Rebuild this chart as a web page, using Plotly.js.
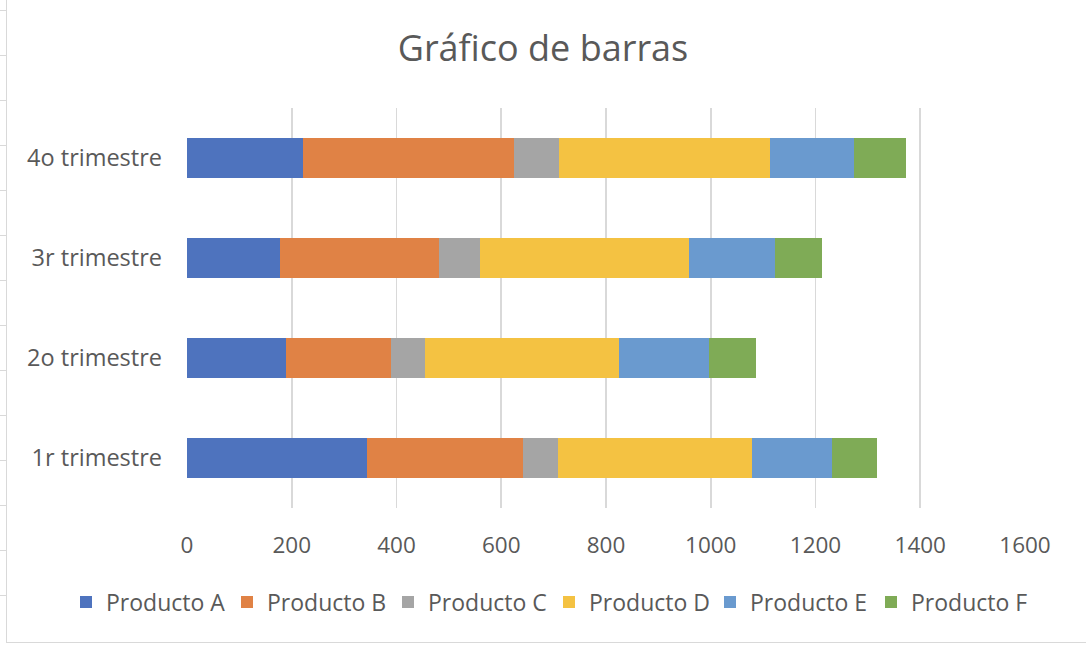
<!DOCTYPE html>
<html>
<head>
<meta charset="utf-8">
<script src="https://cdn.plot.ly/plotly-3.0.1.min.js"></script>
<style>
  html, body { margin: 0; padding: 0; background: #ffffff; }
  #frame { position: absolute; left: 0; top: 0; width: 1086px; height: 646px; overflow: hidden; }
  #chart { position: absolute; left: 0; top: 0; width: 1086px; height: 646px; }
  #border { position: absolute; left: 6px; top: -2px; width: 1100px; height: 644px;
            border-left: 1.5px solid #d9d9d9; border-bottom: 1.5px solid #d9d9d9; pointer-events: none; }
  .rowline { position: absolute; left: 0; width: 7px; height: 1px; background: #d9d9d9; }
</style>
</head>
<body>
<div id="frame">
  <div id="chart"></div>
  <div id="border"></div>
</div>
<script>
const categories = ["1r trimestre", "2o trimestre", "3r trimestre", "4o trimestre"];
const seriesNames = ["Producto A", "Producto B", "Producto C", "Producto D", "Producto E", "Producto F"];
const productoA = [343, 189, 178, 221];
const productoB = [299, 200, 303, 404];
const productoC = [67, 65, 78, 86];
const productoD = [370, 371, 400, 402];
const productoE = [153, 172, 163, 160];
const productoF = [86, 89, 90, 100];
const xTicks = [0, 200, 400, 600, 800, 1000, 1200, 1400, 1600];

const seriesValues = [productoA, productoB, productoC, productoD, productoE, productoF];
const colors = ["#4E73BE", "#E08245", "#A5A5A5", "#F4C242", "#6A9ACF", "#7FAB56"];

// spreadsheet row lines visible at the left edge (background decoration)
(function () {
  const frame = document.getElementById("frame");
  for (let y = 10; y < 640; y += 45) {
    const d = document.createElement("div");
    d.className = "rowline";
    d.style.top = y + "px";
    frame.appendChild(d);
  }
})();

const traces = seriesNames.map((name, i) => ({
  type: "bar",
  orientation: "h",
  name: name,
  y: categories,
  x: seriesValues[i],
  marker: { color: colors[i], line: { width: 0 } },
  hoverinfo: "x+name"
}));

const font = "'Open Sans', 'Noto Sans', sans-serif";
const layout = {
  width: 1086,
  height: 646,
  paper_bgcolor: "rgba(0,0,0,0)",
  plot_bgcolor: "rgba(0,0,0,0)",
  barmode: "stack",
  bargap: 0.6,
  margin: { l: 187, r: 61, t: 108, b: 138, pad: 0 },
  font: { family: font, color: "#595959", size: 23 },
  title: {
    text: "Gráfico de barras",
    font: { family: font, size: 36, color: "#595959" },
    x: 0.5, xref: "container", xanchor: "center",
    y: 1 - 48 / 646, yref: "container", yanchor: "middle"
  },
  xaxis: {
    range: [0, 1600],
    tickvals: xTicks,
    ticktext: xTicks.map(String),
    showgrid: true,
    gridcolor: "#d9d9d9",
    gridwidth: 1.6,
    zeroline: false,
    showline: false,
    ticks: "",
    ticklabelstandoff: 21,
    tickfont: { family: font, size: 22.5, color: "#595959" },
    fixedrange: true
  },
  yaxis: {
    type: "category",
    categoryorder: "array",
    categoryarray: categories,
    showgrid: false,
    zeroline: false,
    showline: false,
    ticks: "",
    ticklabelstandoff: 24,
    tickfont: { family: font, size: 23.5, color: "#595959" },
    fixedrange: true
  },
  showlegend: true,
  legend: {
    orientation: "h",
    traceorder: "normal",
    xref: "paper", x: (66 - 187) / 838, xanchor: "left",
    yref: "paper", y: -0.235, yanchor: "middle",
    font: { family: font, size: 23, color: "#595959" },
    itemwidth: 30,
    entrywidth: 116,
    entrywidthmode: "pixels",
    bgcolor: "rgba(0,0,0,0)"
  }
};

Plotly.newPlot("chart", traces, layout, { displayModeBar: false, staticPlot: true });
</script>
</body>
</html>
